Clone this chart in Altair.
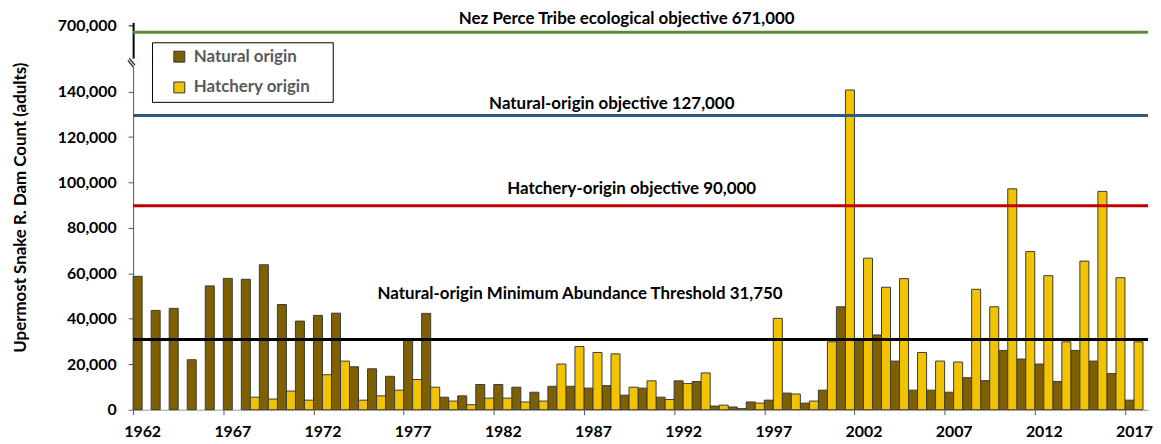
import altair as alt
import pandas as pd

FONT = "Lato"

years = list(range(1962, 2018))
natural = [58700, 43700, 44600, 22000, 54500, 57800, 57400, 63800, 46300, 39000,
           41500, 42500, 18900, 18000, 14700, 30700, 42400, 5500, 6100, 11100,
           11100, 9900, 7700, 10300, 10300, 9500, 10600, 6400, 9500, 5500,
           12700, 12400, 1600, 1200, 3400, 4200, 7300, 2900, 8600, 45300,
           29900, 32900, 21400, 8600, 8600, 7700, 14100, 12800, 26100, 22300,
           20100, 12400, 26100, 21400, 15900, 4200]
hatchery = [None, None, None, None, None, None, 5500, 4700, 8200, 4200,
            15400, 21400, 4200, 6100, 8600, 13300, 9900, 3800, 2200, 5100,
            5100, 3400, 3800, 20100, 27800, 25200, 24600, 9900, 12700, 4500,
            11500, 16200, 2000, 500, 2900, 40200, 6900, 3800, 29900, 140700,
            66700, 53900, 57700, 25200, 21400, 21000, 53000, 45300, 97200, 69600,
            59000, 29900, 65400, 96100, 58100, 29900]
origins = ["Natural origin", "Hatchery origin"]
origin_colors = ["#7F6000", "#F2C300"]
label_years = [1962, 1967, 1972, 1977, 1982, 1987, 1992, 1997, 2002, 2007, 2012, 2017]

# objective lines (drawn positions) and their labels
top_value = [671000]
top_label = ["Nez Perce Tribe ecological objective 671,000"]
line_values = [129500, 89800, 30900]
line_labels = ["Natural-origin objective 127,000",
               "Hatchery-origin objective 90,000",
               "Natural-origin Minimum Abundance Threshold 31,750"]
line_colors = ["#2E5984", "#C00000", "#000000"]
label_dx = [482, 502, 450]
label_dy = [-12, -17, -46]

W = 1022
STEP = W / (56 + 0.28)

bars_df = pd.concat([
    pd.DataFrame({"year": years, "origin": origins[0], "count": natural}),
    pd.DataFrame({"year": years, "origin": origins[1], "count": hatchery}),
]).dropna()

axis_common = dict(labelFont=FONT, labelFontSize=16, labelFontWeight="bold",
                   labelColor="black", grid=False, tickSize=5)

bars = alt.Chart(bars_df).mark_bar(stroke="#3a3a3a", strokeWidth=1).encode(
    x=alt.X("year:O", title=None,
            scale=alt.Scale(paddingInner=0, paddingOuter=0.14, align=0),
            axis=alt.Axis(values=label_years, labelAngle=0, tickOffset=-STEP / 2,
                          labelOffset=STEP / 2, domainColor="#9a9a9a", tickColor="#555",
                          labelPadding=9, **axis_common)),
    xOffset=alt.XOffset("origin:N", sort=origins,
                        scale=alt.Scale(paddingInner=0, paddingOuter=0)),
    y=alt.Y("count:Q",
            scale=alt.Scale(domain=[0, 150800], nice=False),
            axis=alt.Axis(values=list(range(0, 140001, 20000)), format=",.0f",
                          title="Upermost Snake R. Dam Count (adults)",
                          titleFont=FONT, titleFontSize=17, titleFontWeight="bold",
                          titleColor="black", titlePadding=28, titleY=141,
                          domainColor="#555", tickColor="#555", labelPadding=12,
                          **axis_common)),
    color=alt.Color("origin:N", sort=origins,
                    scale=alt.Scale(domain=origins, range=origin_colors),
                    legend=alt.Legend(title=" ", titleOrient="left", titlePadding=13,
                                      titleFontSize=8,
                                      orient="none", legendX=19, legendY=20,
                                      direction="vertical", fillColor="white",
                                      strokeColor="black", padding=6,
                                      symbolType="square", symbolSize=121,
                                      symbolStrokeColor="#333", symbolStrokeWidth=1,
                                      labelFont=FONT, labelFontSize=17,
                                      labelFontWeight="bold", labelColor="#595959",
                                      rowPadding=13, labelOffset=6,
                                      labelExpr="datum.label + ' \u2800'")),
)

layers = [bars]
for v, lab, c, dx, dy in zip(line_values, line_labels, line_colors, label_dx, label_dy):
    d = pd.DataFrame({"value": [v], "label": [lab]})
    layers.append(alt.Chart(d).mark_rule(color=c, strokeWidth=3).encode(y="value:Q"))
    layers.append(alt.Chart(d).mark_text(font=FONT, fontSize=17, fontWeight="bold",
                                         color="black", dy=dy, align="center",
                                         baseline="middle").encode(
        y="value:Q", x=alt.value(dx), text="label:N"))

brk = alt.Chart(pd.DataFrame({"t": ["//"]})).mark_text(
    font=FONT, fontSize=11, fontWeight="bold", angle=300, color="black").encode(
    x=alt.value(-1), y=alt.value(-4), text="t:N")
layers.append(brk)

bottom = alt.layer(*layers).properties(width=W, height=345)

top_df = pd.DataFrame({"value": top_value, "label": top_label})
top_rule = alt.Chart(top_df).mark_rule(color="#5B8C3A", strokeWidth=3).encode(
    y=alt.Y("value:Q", scale=alt.Scale(domain=[555000, 715600], nice=False, zero=False),
            axis=alt.Axis(values=[700000], format=",.0f", title=None, domainColor="black",
                          domainWidth=2, tickColor="black", labelPadding=12,
                          **axis_common)))
top_text = alt.Chart(top_df).mark_text(font=FONT, fontSize=17, fontWeight="bold",
                                       color="black", dy=-13, align="center",
                                       baseline="middle").encode(
    y="value:Q", x=alt.value(497), text="label:N")
top = alt.layer(top_rule, top_text).properties(width=W, height=36)

chart = alt.vconcat(top, bottom, spacing=9, bounds="flush").resolve_scale(
    y="independent", x="independent").properties(
    padding={"left": 3, "top": 0, "right": 0, "bottom": 0}
).configure_view(stroke=None)

chart.save("out.html", embed_options={"renderer": "svg", "actions": False})
